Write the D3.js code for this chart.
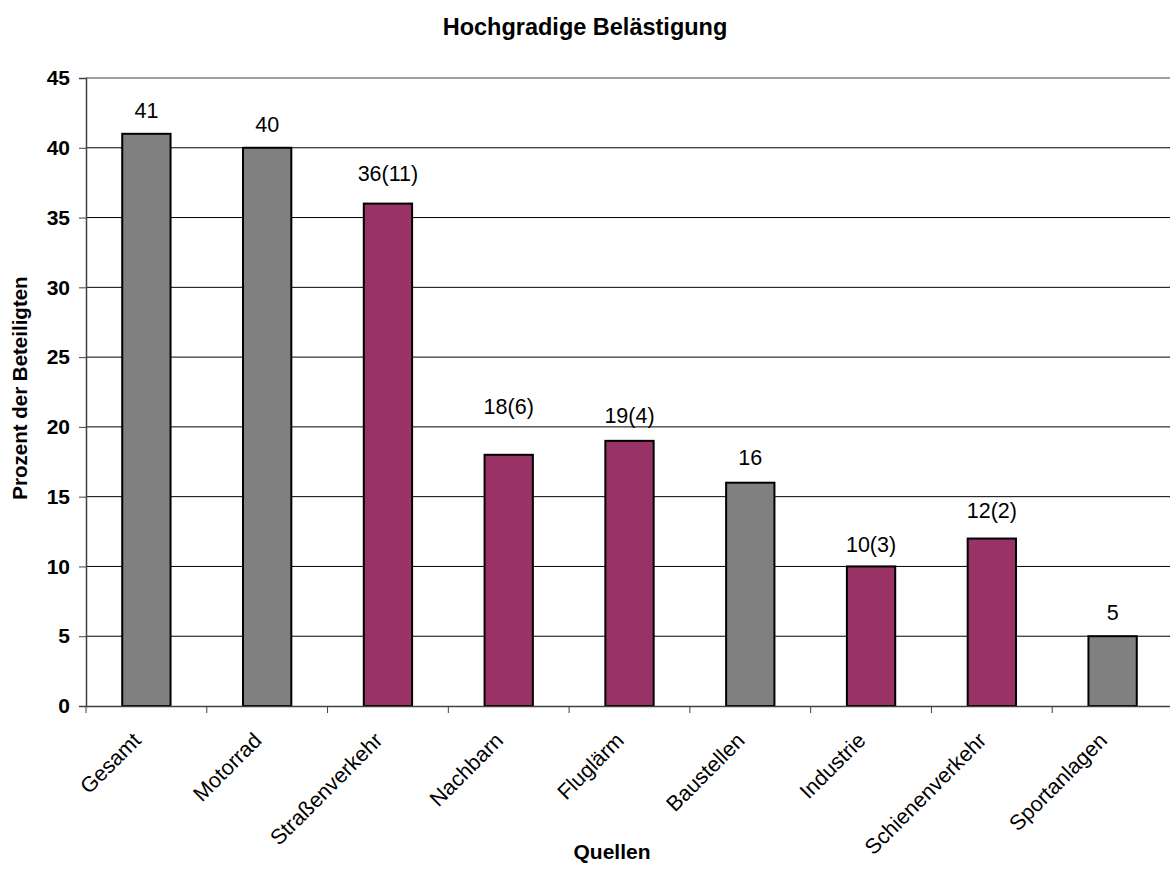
<!DOCTYPE html>
<html><head><meta charset="utf-8">
<script src="https://cdn.jsdelivr.net/npm/d3@7"></script>
<style>
html,body{margin:0;padding:0;background:#fff;}
text{font-family:Arial,"Liberation Sans",sans-serif;}
</style></head>
<body><svg id="chart" width="1170" height="888"></svg>
<script>
const categories = ["Gesamt","Motorrad","Straßenverkehr","Nachbarn","Fluglärm","Baustellen","Industrie","Schienenverkehr","Sportanlagen"];
const values = [41,40,36,18,19,16,10,12,5];
const labels = ["41","40","36(11)","18(6)","19(4)","16","10(3)","12(2)","5"];
const groups = ["gesamt","gesamt","quelle","quelle","quelle","gesamt","quelle","quelle","gesamt"];
const yTicks = [0,5,10,15,20,25,30,35,40,45];
const title = "Hochgradige Belästigung";
const xTitle = "Quellen";
const yTitle = "Prozent der Beteiligten";

// label lift above bar top (value units), as placed in the original
const labelLift = [1.65,1.7,2.15,3.45,1.8,1.8,1.6,2.0,1.7];

(function(){
const svg = d3.select("#chart");
const pL = 86, pR = 1173, pT = 78, pB = 706;
const x = d3.scaleBand().domain(categories).range([pL, pR]).paddingInner(0).paddingOuter(0);
const y = d3.scaleLinear().domain([0,45]).range([pB, pT]);
const color = d3.scaleOrdinal().domain(["gesamt","quelle"]).range(["#808080","#993366"]);
const barW = x.bandwidth()*0.4;

// gridlines
svg.append("g").selectAll("line").data(yTicks.filter(d=>d>0)).join("line")
  .attr("x1", pL).attr("x2", pR)
  .attr("y1", d=>y(d)).attr("y2", d=>y(d))
  .attr("stroke", d=> d===45 ? "#808080" : "#000")
  .attr("stroke-width", d=> d===45 ? 1.5 : 1);

// bars
svg.append("g").selectAll("rect").data(values).join("rect")
  .attr("x", (d,i)=> x(categories[i]) + x.bandwidth()/2 - barW/2)
  .attr("y", d=> y(d))
  .attr("width", barW)
  .attr("height", d=> y(0)-y(d))
  .attr("fill", (d,i)=> color(groups[i]))
  .attr("stroke", "#000").attr("stroke-width", 2);

// y axis
const yAxis = svg.append("g").attr("transform", `translate(${pL},0)`)
  .call(d3.axisLeft(y).tickValues(yTicks).tickSize(7).tickPadding(9));
yAxis.select(".domain").attr("stroke","#404040").attr("stroke-width",1.5);
yAxis.selectAll(".tick line").attr("stroke","#404040");
yAxis.selectAll(".tick text").attr("font-size", 21).attr("font-weight","bold").attr("fill","#000")
  .attr("font-family","Arial, 'Liberation Sans', sans-serif");

// x axis
const xAxis = svg.append("g").attr("transform", `translate(0,${pB})`)
  .call(d3.axisBottom(x).tickSize(0).tickFormat(""));
xAxis.select(".domain").attr("stroke","#404040").attr("stroke-width",1.5);
svg.append("g").selectAll("line").data(d3.range(categories.length+1)).join("line")
  .attr("x1", i=> pL + i*x.step()).attr("x2", i=> pL + i*x.step())
  .attr("y1", pB).attr("y2", pB+7).attr("stroke","#404040");

// x labels
svg.append("g").selectAll("text").data(categories).join("text")
  .attr("transform", d=> `translate(${x(d)+x.bandwidth()/2-15},${pB+25}) rotate(-45)`)
  .attr("text-anchor","end").attr("dy","0.71em")
  .attr("font-size", 21.5).text(d=>d);

// value labels
svg.append("g").selectAll("text").data(values).join("text")
  .attr("x", (d,i)=> x(categories[i]) + x.bandwidth()/2)
  .attr("y", (d,i)=> y(d + labelLift[i]))
  .attr("dy","0.35em")
  .attr("text-anchor","middle").attr("font-size", 21.5).text((d,i)=>labels[i]);

// titles
svg.append("text").attr("x", 585).attr("y", 27).attr("dy","0.35em").attr("text-anchor","middle")
  .attr("font-size", 23.5).attr("font-weight","bold").text(title);
svg.append("text").attr("x", 612).attr("y", 852).attr("dy","0.35em").attr("text-anchor","middle")
  .attr("font-size", 21).attr("font-weight","bold").text(xTitle);
svg.append("text").attr("transform", `translate(20,388) rotate(-90)`)
  .attr("dy","0.35em").attr("text-anchor","middle")
  .attr("font-size", 20.5).attr("font-weight","bold").text(yTitle);
})();
</script></body></html>
